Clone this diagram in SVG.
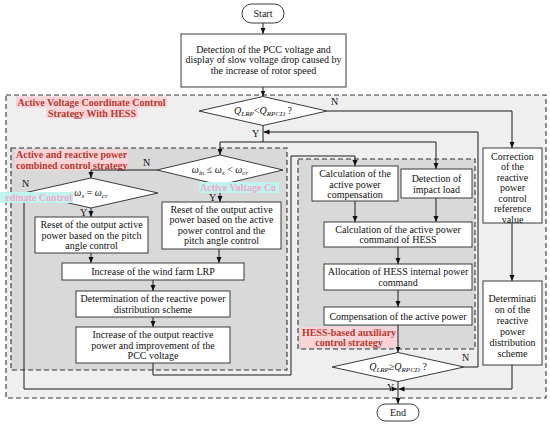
<svg xmlns="http://www.w3.org/2000/svg" width="550" height="424" viewBox="0 0 550 424">
<style>
.bx{fill:#fff;stroke:#3a3a3a;stroke-width:1}
.t{font-family:"Liberation Serif","Times New Roman",serif;font-size:10px;fill:#111;text-anchor:middle}
.ti{font-family:"Liberation Serif","Times New Roman",serif;font-size:10px;font-weight:bold;fill:#b23a32}
.hl{fill:#f9d3d6}
.gh{font-family:"Liberation Serif","Times New Roman",serif;font-size:10px;font-weight:bold;fill:#f3a6cf}
.gb{fill:#bff3ee}
.ln{fill:none;stroke:#1a1a1a;stroke-width:1}
.ar{fill:none;stroke:#1a1a1a;stroke-width:1;marker-end:url(#a)}
.ds{stroke:#333;stroke-width:1.1;stroke-dasharray:5,3}
.it{font-style:italic}
.sb{font-size:7px;font-style:italic}
.lb{font-family:"Liberation Serif","Times New Roman",serif;font-size:10px;fill:#111}
</style>
<defs>
<marker id="a" viewBox="0 0 6 6" refX="6" refY="3" markerWidth="6" markerHeight="6" orient="auto" markerUnits="userSpaceOnUse"><path d="M0,0.5 L6,3 L0,5.5 z" fill="#111"/></marker>
</defs>
<rect width="550" height="424" fill="#fff"/>
<g id="region-outer">
<rect x="6" y="95" width="540" height="303" fill="#efefef" class="ds"/>
<rect class="hl" x="16" y="96.5" width="151" height="11"/>
<rect class="hl" x="46" y="107.5" width="92" height="11"/>
<text class="ti" x="91.5" y="105.5" text-anchor="middle">Active Voltage Coordinate Control</text>
<text class="ti" x="92" y="116.5" text-anchor="middle">Strategy With HESS</text>
</g>
<g id="region-left">
<rect x="11" y="148" width="276" height="222" fill="#d9d9d9" class="ds"/>
<rect class="hl" x="15" y="149.5" width="113" height="21"/>
<text class="ti" x="16" y="158">Active and reactive power</text>
<text class="ti" x="16" y="168.5">combined control strategy</text>
</g>
<g id="region-hess">
<rect x="298" y="159" width="177" height="190" fill="#d9d9d9" class="ds"/>
<rect class="hl" x="301" y="327" width="97" height="21"/>
<text class="ti" x="349" y="335.5" text-anchor="middle">HESS-based auxiliary</text>
<text class="ti" x="349" y="346" text-anchor="middle">control strategy</text>
</g>
<g id="connectors">
<path class="ar" d="M263,23 V34"/>
<path class="ar" d="M263,87 V96.5"/>
<path class="ln" d="M263,125.5 V142"/>
<path class="ar" d="M263,142 H220 V155"/>
<path class="ar" d="M263,142 H436 V169"/>
<path class="ar" d="M327,111 H512 V148"/>
<path class="ar" d="M512,223 V281"/>
<path class="ar" d="M512,365 V389 H398.5"/>
<path class="ar" d="M157,170 H91 V178"/>
<path class="ar" d="M24,193 V389 H397.5"/>
<path class="ar" d="M91,208 V217"/>
<path class="ar" d="M220,185 V202"/>
<path class="ar" d="M91,253 V263"/>
<path class="ar" d="M219,249 V263"/>
<path class="ar" d="M153,280 V291"/>
<path class="ar" d="M153,317 V327"/>
<path class="ar" d="M153,363 V375 H291 V156 H355 V166"/>
<path class="ar" d="M355,201 V222"/>
<path class="ar" d="M436,198 V222"/>
<path class="ar" d="M398,247 V264"/>
<path class="ar" d="M398,290 V307"/>
<path class="ar" d="M398,325 V352.5"/>
<path class="ar" d="M464,367 H478 V132 H263.5"/>
<path class="ar" d="M398,381.5 V404"/>
<text class="lb" x="331" y="105">N</text>
<text class="lb" x="252" y="136.5">Y</text>
<text class="lb" x="143" y="165.5">N</text>
<text class="lb" x="22" y="187">N</text>
<text class="lb" x="209" y="200.5">Y</text>
<text class="lb" x="80" y="216">Y</text>
<text class="lb" x="462" y="361">N</text>
<text class="lb" x="387" y="391">Y</text>
</g>
<g id="start">
<rect class="bx" x="242" y="4" width="42" height="19" rx="9.5"/>
<text class="t" x="263" y="17">Start</text>
</g>
<g id="detect-pcc">
<rect class="bx" x="181" y="34" width="165" height="53"/>
<text class="t" x="263.5" y="52.5">Detection of the PCC voltage and</text>
<text class="t" x="263.5" y="63">display of slow voltage drop caused by</text>
<text class="t" x="263.5" y="73.5">the increase of rotor speed</text>
</g>
<g id="dec-q1">
<polygon class="bx" points="263,96.5 327,111 263,125.5 199,111"/>
<text class="t" x="263" y="114"><tspan class="it">Q</tspan><tspan class="sb" dy="2">LRP</tspan><tspan dy="-2">&lt;</tspan><tspan class="it">Q</tspan><tspan class="sb" dy="2">RPCD</tspan><tspan dy="-2"> ?</tspan></text>
</g>
<g id="correction">
<rect class="bx" x="483" y="148" width="59" height="75"/>
<text class="t" x="512.5" y="159.5">Correction</text>
<text class="t" x="512.5" y="170">of the</text>
<text class="t" x="512.5" y="180.5">reactive</text>
<text class="t" x="512.5" y="191">power</text>
<text class="t" x="512.5" y="201.5">control</text>
<text class="t" x="512.5" y="212">reference</text>
<text class="t" x="512.5" y="222.5">value</text>
</g>
<g id="determinati">
<rect class="bx" x="483" y="281" width="59" height="84"/>
<text class="t" x="512.5" y="301.5">Determinati</text>
<text class="t" x="512.5" y="312.5">on of the</text>
<text class="t" x="512.5" y="323.5">reactive</text>
<text class="t" x="512.5" y="334.5">power</text>
<text class="t" x="512.5" y="345.5">distribution</text>
<text class="t" x="512.5" y="356.5">scheme</text>
</g>
<g id="dec-w1">
<polygon class="bx" points="220,155 283,170 220,185 157,170"/>
<text class="t" x="220" y="173"><tspan class="it">ω</tspan><tspan class="sb" dy="2">in</tspan><tspan dy="-2"> ≤ </tspan><tspan class="it">ω</tspan><tspan class="sb" dy="2">s</tspan><tspan dy="-2"> &lt; </tspan><tspan class="it">ω</tspan><tspan class="sb" dy="2">cr</tspan></text>
</g>
<g id="dec-w2">
<polygon class="bx" points="91,178 158,193 91,208 24,193"/>
<text class="t" x="91" y="196"><tspan class="it">ω</tspan><tspan class="sb" dy="2">s</tspan><tspan dy="-2"> = </tspan><tspan class="it">ω</tspan><tspan class="sb" dy="2">cr</tspan></text>
</g>
<g id="ghosts">
<rect class="gb" x="0" y="192" width="73" height="11"/>
<text class="gh" x="72" y="200.5" text-anchor="end">rdinate Control</text>
<rect class="gb" x="199" y="182" width="80" height="11"/>
<text class="gh" x="200" y="190.5">Active Voltage Co</text>
</g>
<g id="reset-pitch">
<rect class="bx" x="35" y="217" width="113" height="36"/>
<text class="t" x="91.5" y="228">Reset of the output active</text>
<text class="t" x="91.5" y="238.5">power based on the pitch</text>
<text class="t" x="91.5" y="249">angle control</text>
</g>
<g id="reset-active">
<rect class="bx" x="162" y="202" width="119" height="47"/>
<text class="t" x="221.5" y="212.5">Reset of the output active</text>
<text class="t" x="221.5" y="223">power based on the active</text>
<text class="t" x="221.5" y="233.5">power control and the</text>
<text class="t" x="221.5" y="244">pitch angle control</text>
</g>
<g id="increase-lrp">
<rect class="bx" x="62" y="263" width="182" height="17"/>
<text class="t" x="153" y="275">Increase of the wind farm LRP</text>
</g>
<g id="determination">
<rect class="bx" x="76" y="291" width="154" height="26"/>
<text class="t" x="153" y="302">Determination of the reactive power</text>
<text class="t" x="153" y="312.5">distribution scheme</text>
</g>
<g id="increase-q">
<rect class="bx" x="76" y="327" width="154" height="36"/>
<text class="t" x="153" y="338">Increase of the output reactive</text>
<text class="t" x="153" y="348.5">power and improvement of the</text>
<text class="t" x="153" y="359">PCC voltage</text>
</g>
<g id="calc-comp">
<rect class="bx" x="312" y="166" width="86" height="35"/>
<text class="t" x="355" y="177">Calculation of the</text>
<text class="t" x="355" y="187.5">active power</text>
<text class="t" x="355" y="198">compensation</text>
</g>
<g id="impact">
<rect class="bx" x="401" y="169" width="71" height="29"/>
<text class="t" x="436.5" y="182">Detection of</text>
<text class="t" x="436.5" y="192.5">impact load</text>
</g>
<g id="hess-cmd">
<rect class="bx" x="324" y="222" width="148" height="25"/>
<text class="t" x="398" y="232.5">Calculation of the active power</text>
<text class="t" x="398" y="243">command of HESS</text>
</g>
<g id="allocation">
<rect class="bx" x="324" y="264" width="148" height="26"/>
<text class="t" x="398" y="275">Allocation of HESS internal power</text>
<text class="t" x="398" y="285.5">command</text>
</g>
<g id="compensation">
<rect class="bx" x="324" y="307" width="148" height="18"/>
<text class="t" x="398" y="319.5">Compensation of the active power</text>
</g>
<g id="dec-q2">
<polygon class="bx" points="398,352.5 464,367 398,381.5 332,367"/>
<text class="t" x="398" y="370"><tspan class="it">Q</tspan><tspan class="sb" dy="2">LRP</tspan><tspan dy="-2">≥</tspan><tspan class="it">Q</tspan><tspan class="sb" dy="2">RPCD</tspan><tspan dy="-2"> ?</tspan></text>
</g>
<g id="end">
<rect class="bx" x="377" y="404" width="42" height="17" rx="8.5"/>
<text class="t" x="398" y="416">End</text>
</g>
</svg>
